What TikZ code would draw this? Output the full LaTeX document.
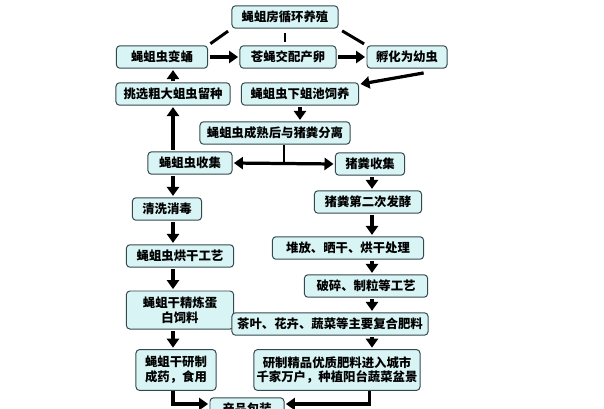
\documentclass[tikz,border=0pt]{standalone}
\usepackage{fontspec}
\setmainfont{Noto Sans CJK SC}
\usepackage{xcolor}
\usepackage{tikz}
\usetikzlibrary{positioning, arrows.meta, calc}
\definecolor{boxfill}{HTML}{D8F4F5}
\definecolor{boxline}{HTML}{34494E}

\begin{document}
\begin{tikzpicture}[
  x=0.025cm, y=-0.025cm,
  font=\fontsize{8.8}{10.5}\selectfont\bfseries,
  stage/.style={draw=boxline, fill=boxfill, rounded corners=2.5pt, line width=0.7pt,
                align=center, inner sep=1.5pt, minimum height=0.56cm},
  fw/.style={line width=2.3pt, -{Triangle[length=6.4pt, width=8.6pt]},
             shorten <=1pt, shorten >=1pt},
  fw2/.style={fw, {Triangle[length=6.4pt, width=8.6pt]}-{Triangle[length=6.4pt, width=8.6pt]}},
  tie/.style={line width=2.1pt, shorten <=3pt, shorten >=2pt}
]
\useasboundingbox (0,0) rectangle (604,408);

% ---- Breeding loop (top) ----
\node[stage, minimum width=2.65cm] (house) at (285,17) {蝇蛆房循环养殖};
\node[stage, minimum width=2.28cm] (pupa)  at (162,57) {蝇蛆虫变蛹};
\node[stage, minimum width=2.40cm] (mate)  at (288,57) {苍蝇交配产卵};
\node[stage, minimum width=2.00cm] (hatch) at (407,57) {孵化为幼虫};
\node[stage, minimum width=2.85cm] (keep)  at (173,94) {挑选粗大蛆虫留种};
\node[stage, minimum width=2.93cm] (pool)  at (300,94) {蝇蛆虫下蛆池饲养};
\node[stage, minimum width=3.75cm] (split) at (275,133) {蝇蛆虫成熟后与猪粪分离};

\draw[tie] (house.south west) -- (pupa.north east);
\draw[tie] (house.south)      -- (house.south |- mate.north);
\draw[tie] (house.south east) -- (hatch.north west);
\draw[fw]  (pupa.east)  -- (mate.west);
\draw[fw]  (mate.east)  -- (hatch.west);
\draw[fw]  ([shift={(18,4)}]hatch.south) -- ([shift={(0,2)}]pool.north east);
\draw[fw]  (keep.north) -- (keep.north |- pupa.south);
\draw[fw]  (pool.south) -- (pool.south |- split.north);

% ---- Collection ----
\node[stage, minimum width=2.10cm] (larva) at (190,163) {蝇蛆虫收集};
\node[stage, minimum width=1.73cm] (dung)  at (370,164) {猪粪收集};
\coordinate (jn) at (284,163);
\draw[tie, shorten <=0pt, shorten >=0pt] (jn |- split.south) -- (jn);
\draw[fw2] (larva.east) -- (dung.west);

% ---- Left column (larvae) ----
\coordinate (lx) at (173,0);
\node[stage, minimum width=1.73cm] (wash)  at (167,209) {清洗消毒};
\node[stage, minimum width=2.68cm] (dry)   at (180,256) {蝇蛆虫烘干工艺};
\node[stage, minimum width=2.68cm, minimum height=0.95cm] (feedst) at (180,310)
      {蝇蛆干精炼蛋\\白饲料};
\node[stage, minimum width=2.00cm, minimum height=1.02cm] (drug) at (176,370)
      {蝇蛆干研制\\成药，食用};

\draw[fw] (lx |- larva.north) -- (lx |- keep.south);
\draw[fw] (lx |- larva.south) -- (lx |- wash.north);
\draw[fw] (lx |- wash.south)  -- (lx |- dry.north);
\draw[fw] (lx |- dry.south)   -- (lx |- feedst.north);
\draw[fw] (lx |- feedst.south) -- (lx |- drug.north);

% ---- Right column (manure) ----
\coordinate (rx) at (372,0);
\node[stage, minimum width=2.68cm] (ferm)  at (368,202) {猪粪第二次发酵};
\node[stage, minimum width=3.78cm] (pile)  at (348,248) {堆放、晒干、烘干处理};
\node[stage, minimum width=3.08cm] (crush) at (366,286) {破碎、制粒等工艺};
\node[stage, minimum width=4.90cm] (fert)  at (330,324) {茶叶、花卉、蔬菜等主要复合肥料};
\node[stage, minimum width=4.15cm, minimum height=1.02cm] (city) at (337,370)
      {研制精品优质肥料进入城市\\千家万户，种植阳台蔬菜盆景};

\draw[fw] (rx |- dung.south)  -- (rx |- ferm.north);
\draw[fw] (rx |- ferm.south)  -- (rx |- pile.north);
\draw[fw] (rx |- pile.south)  -- (rx |- crush.north);
\draw[fw] (rx |- crush.south) -- (rx |- fert.north);
\draw[fw] (rx |- fert.south)  -- (rx |- city.north);

% ---- Packaging (cut at the bottom edge) ----
\node[stage, minimum width=1.85cm] (pack) at (247,409) {产品包装};
\draw[fw, shorten <=0pt] (lx |- drug.south) |- ([shift={(0,-5)}]pack.west);
\draw[fw, shorten <=0pt] ([xshift=-2pt]rx |- city.south) |- ([shift={(0,-5)}]pack.east);

\end{tikzpicture}
\end{document}
